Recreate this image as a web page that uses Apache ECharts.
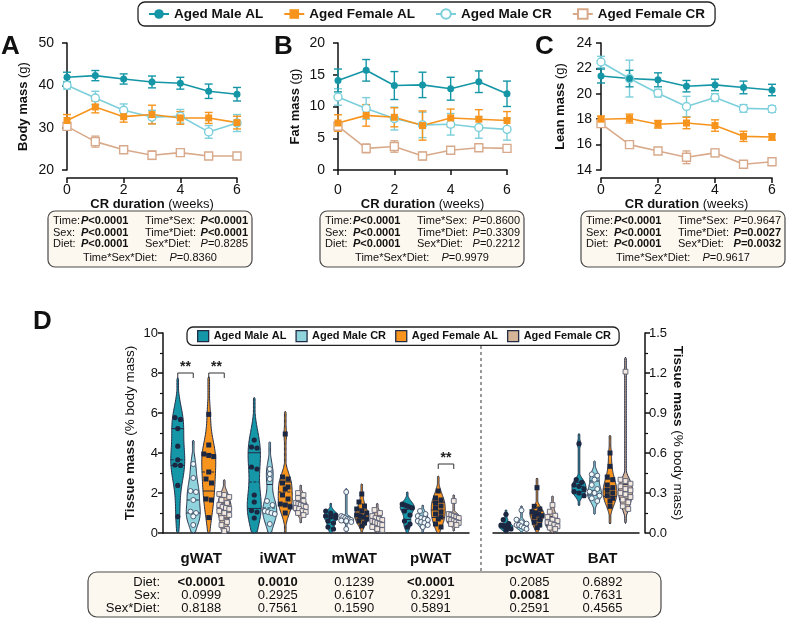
<!DOCTYPE html>
<html><head><meta charset="utf-8">
<script src="https://cdn.jsdelivr.net/npm/echarts@6/dist/echarts.min.js"></script>
<style>html,body{margin:0;padding:0;background:#fff}#c{width:787px;height:619px}</style>
</head><body><div id="c"></div>
<script>
// ================= DATA =================
const weeks = [0, 1, 2, 3, 4, 5, 6];
const groupNames = ['Aged Male AL', 'Aged Female AL', 'Aged Male CR', 'Aged Female CR'];

// Panel A: body mass (g)
const bodyMaleAL = [41.9, 42.3, 41.5, 40.8, 40.5, 38.6, 37.9];
const bodyMaleALErr = [1.2, 1.2, 1.2, 1.4, 1.4, 1.7, 1.6];
const bodyFemaleAL = [31.7, 34.9, 32.6, 33.1, 32.3, 32.3, 31.2];
const bodyFemaleALErr = [1.4, 1.4, 1.3, 2.2, 1.5, 1.3, 1.5];
const bodyMaleCR = [40.0, 37.0, 34.1, 32.5, 32.7, 29.0, 31.1];
const bodyMaleCRErr = [0.9, 1.6, 1.5, 1.6, 1.6, 1.5, 2.0];
const bodyFemaleCR = [30.3, 26.7, 24.8, 23.5, 24.1, 23.3, 23.3];
const bodyFemaleCRErr = [0.8, 1.3, 0.8, 1.0, 0.6, 0.3, 0.3];

// Panel B: fat mass (g)
const fatMaleAL = [14.1, 15.7, 13.3, 13.4, 12.8, 13.9, 12.0];
const fatMaleALErr = [1.8, 1.7, 2.2, 2.0, 1.8, 1.7, 2.0];
const fatFemaleAL = [7.4, 8.6, 8.3, 7.0, 8.2, 8.0, 7.8];
const fatFemaleALErr = [1.3, 1.7, 1.5, 2.3, 1.4, 1.5, 1.4];
const fatMaleCR = [11.5, 9.7, 8.1, 7.1, 7.2, 6.7, 6.4];
const fatMaleCRErr = [1.3, 1.7, 1.8, 2.0, 1.7, 1.7, 1.7];
const fatFemaleCR = [6.9, 3.4, 3.7, 2.2, 3.1, 3.5, 3.4];
const fatFemaleCRErr = [0.7, 0.7, 0.9, 0.6, 0.4, 0.3, 0.3];

// Panel C: lean mass (g)
const leanMaleAL = [21.4, 21.2, 21.1, 20.6, 20.7, 20.5, 20.3];
const leanMaleALErr = [0.55, 0.65, 0.55, 0.45, 0.45, 0.5, 0.45];
const leanFemaleAL = [18.0, 18.05, 17.6, 17.7, 17.5, 16.65, 16.6];
const leanFemaleALErr = [0.25, 0.35, 0.3, 0.45, 0.45, 0.4, 0.25];
const leanMaleCR = [22.5, 21.2, 20.05, 19.0, 19.7, 18.85, 18.8];
const leanMaleCRErr = [0.45, 1.45, 0.3, 0.8, 0.3, 0.3, 0.25];
const leanFemaleCR = [17.65, 16.0, 15.5, 15.0, 15.35, 14.45, 14.65];
const leanFemaleCRErr = [0.2, 0.2, 0.2, 0.5, 0.3, 0.15, 0.25];

// Stats boxes (A, B, C)
const statsA = [['Time:', 'P<0.0001', 'Time*Sex:', 'P<0.0001'], ['Sex:', 'P<0.0001', 'Time*Diet:', 'P<0.0001'], ['Diet:', 'P<0.0001', 'Sex*Diet:', 'P=0.8285']];
const statsA3 = 'P=0.8360';
const statsB = [['Time:', 'P<0.0001', 'Time*Sex:', 'P=0.8600'], ['Sex:', 'P<0.0001', 'Time*Diet:', 'P=0.3309'], ['Diet:', 'P<0.0001', 'Sex*Diet:', 'P=0.2212']];
const statsB3 = 'P=0.9979';
const statsC = [['Time:', 'P<0.0001', 'Time*Sex:', 'P=0.9647'], ['Sex:', 'P<0.0001', 'Time*Diet:', 'P=0.0027'], ['Diet:', 'P<0.0001', 'Sex*Diet:', 'P=0.0032']];
const statsC3 = 'P=0.9617';

// Panel D: tissue mass (% body mass)
const tissuesLeft = ['gWAT', 'iWAT', 'mWAT', 'pWAT'];
const tissuesRight = ['pcWAT', 'BAT'];
const dGroupNames = ['Aged Male AL', 'Aged Male CR', 'Aged Female AL', 'Aged Female CR'];

const gWAT_MaleAL = [5.77, 5.68, 5.22, 4.34, 3.66, 3.40, 3.38, 2.38, 0.82];
const gWAT_MaleCR = [3.45, 2.75, 2.10, 2.05, 1.65, 1.07, 1.00, 0.83, 0.40];
const gWAT_FemaleAL = [5.93, 4.40, 3.95, 3.88, 3.82, 3.05, 2.70, 2.50, 1.70, 1.65, 0.77];
const gWAT_FemaleCR = [1.95, 1.90, 1.80, 1.65, 1.50, 1.40, 1.30, 1.25, 1.20, 1.10, 1.00, 0.90, 0.75, 0.55, 0.40, 0.20, 0.10];
const iWAT_MaleAL = [4.65, 4.30, 4.25, 3.30, 3.20, 1.90, 1.55, 1.12, 1.05, 0.75];
const iWAT_MaleCR = [3.20, 2.95, 2.70, 1.60, 1.40, 1.10, 1.05, 1.00, 0.95, 0.45];
const iWAT_FemaleAL = [4.95, 2.80, 2.70, 2.50, 2.30, 2.20, 1.90, 1.70, 1.45, 1.40, 1.30, 1.00];
const iWAT_FemaleCR = [2.00, 1.90, 1.75, 1.60, 1.50, 1.45, 1.40, 1.35, 1.30, 1.25, 1.20, 1.10, 1.05, 1.00, 0.90];
const mWAT_MaleAL = [1.10, 1.00, 0.90, 0.85, 0.80, 0.75, 0.60, 0.50, 0.30, 0.20];
const mWAT_MaleCR = [2.05, 0.85, 0.80, 0.75, 0.70, 0.68, 0.65, 0.62, 0.60, 0.55, 0.20];
const mWAT_FemaleAL = [1.95, 1.55, 1.35, 1.20, 1.10, 1.00, 0.90, 0.85, 0.80, 0.70, 0.60, 0.50, 0.35];
const mWAT_FemaleCR = [1.15, 1.00, 0.85, 0.75, 0.70, 0.65, 0.60, 0.55, 0.50, 0.45, 0.40, 0.30, 0.20, 0.15];
const pWAT_MaleAL = [1.45, 1.40, 1.35, 1.30, 1.25, 1.10, 0.90, 0.60, 0.45, 0.30];
const pWAT_MaleCR = [1.10, 0.95, 0.85, 0.75, 0.70, 0.65, 0.60, 0.55, 0.50, 0.40, 0.30];
const pWAT_FemaleAL = [2.10, 1.75, 1.65, 1.50, 1.35, 1.25, 1.05, 0.95, 0.80, 0.70, 0.45, 0.30];
const pWAT_FemaleCR = [1.60, 0.95, 0.90, 0.85, 0.80, 0.75, 0.70, 0.65, 0.60, 0.55, 0.50, 0.45, 0.40];
const pcWAT_MaleAL = [0.14, 0.10, 0.07, 0.06, 0.05, 0.05, 0.04, 0.03, 0.02];
const pcWAT_MaleCR = [0.17, 0.10, 0.08, 0.07, 0.06, 0.06, 0.05, 0.04, 0.03];
const pcWAT_FemaleAL = [0.34, 0.20, 0.18, 0.16, 0.15, 0.14, 0.13, 0.12, 0.10, 0.08, 0.06, 0.04];
const pcWAT_FemaleCR = [0.21, 0.16, 0.13, 0.12, 0.10, 0.09, 0.08, 0.07, 0.06, 0.05, 0.04, 0.03];
const BAT_MaleAL = [0.67, 0.40, 0.38, 0.36, 0.35, 0.33, 0.31, 0.30, 0.28];
const BAT_MaleCR = [0.44, 0.43, 0.40, 0.36, 0.33, 0.31, 0.30, 0.28, 0.26, 0.24];
const BAT_FemaleAL = [0.60, 0.50, 0.42, 0.40, 0.36, 0.34, 0.32, 0.30, 0.28, 0.26, 0.24, 0.20];
const BAT_FemaleCR = [1.21, 0.40, 0.39, 0.37, 0.35, 0.33, 0.32, 0.30, 0.29, 0.27, 0.25, 0.23, 0.20, 0.18];

// significance brackets: [tissueIndex (left group), y value, groupA, groupB]
const sigBrackets = [[0, 8.0, 0, 1], [0, 8.0, 2, 3], [3, 3.45, 2, 3]];
const sigLabel = '**';

// Table under D
const tableRowLabels = ['Diet:', 'Sex:', 'Sex*Diet:'];
const pDiet = ['<0.0001', '0.0010', '0.1239', '<0.0001', '0.2085', '0.6892'];
const pSex = ['0.0999', '0.2925', '0.6107', '0.3291', '0.0081', '0.7631'];
const pSexDiet = ['0.8188', '0.7561', '0.1590', '0.5891', '0.2591', '0.4565'];

// ================= STYLE =================
const FONT = "'Liberation Sans', Arial, Helvetica, sans-serif";
const INK = '#111';
const COL = { mAL: '#1496a6', fAL: '#f7941d', mCR: '#7ccfdb', fCR: '#d8aa8b' };
const VFILL = ['#1597a8', '#8fd3dd', '#f7941d', '#d6b497'];
const VLINE = '#232c46';
const vOffsets = [-23.5, -8, 7.5, 23];

const leftSets = [
  [gWAT_MaleAL, gWAT_MaleCR, gWAT_FemaleAL, gWAT_FemaleCR],
  [iWAT_MaleAL, iWAT_MaleCR, iWAT_FemaleAL, iWAT_FemaleCR],
  [mWAT_MaleAL, mWAT_MaleCR, mWAT_FemaleAL, mWAT_FemaleCR],
  [pWAT_MaleAL, pWAT_MaleCR, pWAT_FemaleAL, pWAT_FemaleCR]
];
const rightSets = [
  [pcWAT_MaleAL, pcWAT_MaleCR, pcWAT_FemaleAL, pcWAT_FemaleCR],
  [BAT_MaleAL, BAT_MaleCR, BAT_FemaleAL, BAT_FemaleCR]
];

const chart = echarts.init(document.getElementById('c'), null, { renderer: 'canvas' });

// ---------- helpers ----------
const axisLineStyle = { color: INK, width: 1.5 };
function lineSeries(name, gi, ys, color, symbol, hollow) {
  return {
    type: 'line', name, xAxisIndex: gi, yAxisIndex: gi,
    data: weeks.map((w, i) => [w, ys[i]]),
    symbol, symbolSize: hollow ? 8 : 7,
    itemStyle: { color: hollow ? '#fff' : color, borderColor: color, borderWidth: hollow ? 1.4 : 0 },
    lineStyle: { color, width: 1.6 },
    z: 4, clip: false, animation: false
  };
}
function errSeries(gi, ys, errs, color) {
  return {
    type: 'custom', xAxisIndex: gi, yAxisIndex: gi, z: 3, clip: false, silent: true,
    data: weeks.map((w, i) => [w, ys[i] - errs[i], ys[i] + errs[i]]),
    encode: { x: 0, y: [1, 2] },
    renderItem(params, api) {
      const x = api.value(0);
      const a = api.coord([x, api.value(1)]);
      const b = api.coord([x, api.value(2)]);
      const cw = 4, st = { stroke: color, lineWidth: 1.4 };
      return {
        type: 'group', children: [
          { type: 'line', shape: { x1: a[0], y1: a[1], x2: b[0], y2: b[1] }, style: st },
          { type: 'line', shape: { x1: a[0] - cw, y1: a[1], x2: a[0] + cw, y2: a[1] }, style: st },
          { type: 'line', shape: { x1: b[0] - cw, y1: b[1], x2: b[0] + cw, y2: b[1] }, style: st }
        ]
      };
    }
  };
}
function panelSeries(gi, mAL, mALe, fAL, fALe, mCR, mCRe, fCR, fCRe) {
  return [
    errSeries(gi, fCR, fCRe, COL.fCR), errSeries(gi, mCR, mCRe, COL.mCR),
    errSeries(gi, fAL, fALe, COL.fAL), errSeries(gi, mAL, mALe, COL.mAL),
    lineSeries('Aged Female CR', gi, fCR, COL.fCR, 'rect', true),
    lineSeries('Aged Male CR', gi, mCR, COL.mCR, 'circle', true),
    lineSeries('Aged Female AL', gi, fAL, COL.fAL, 'rect', false),
    lineSeries('Aged Male AL', gi, mAL, COL.mAL, 'circle', false)
  ];
}
function topX(gi) {
  return {
    gridIndex: gi, type: 'value', min: 0, max: 6, interval: 2, offset: 8,
    axisLine: { show: true, lineStyle: axisLineStyle },
    axisTick: { show: true, length: 5, lineStyle: { width: 1.5, color: INK } },
    axisLabel: { fontSize: 14, color: INK, margin: 5, fontFamily: FONT },
    splitLine: { show: false },
    name: '{b|CR duration} (weeks)', nameLocation: 'middle', nameGap: 18,
    nameTextStyle: { fontSize: 13, color: INK, fontFamily: FONT, rich: { b: { fontSize: 13, fontWeight: 'bold', color: INK, fontFamily: FONT } } }
  };
}
function topY(gi, min, max, interval, offset, title, gap) {
  return {
    gridIndex: gi, type: 'value', min, max, interval, offset,
    axisLine: { show: true, lineStyle: axisLineStyle },
    axisTick: { show: true, length: 5, lineStyle: { width: 1.5, color: INK } },
    axisLabel: { fontSize: 14, color: INK, margin: 5, fontFamily: FONT },
    splitLine: { show: false },
    name: '{b|' + title + '} (g)', nameLocation: 'middle', nameGap: gap, nameRotate: 90,
    nameTextStyle: { fontSize: 13, color: INK, fontFamily: FONT, rich: { b: { fontSize: 13, fontWeight: 'bold', color: INK, fontFamily: FONT } } }
  };
}
function quantile(s, q) {
  const pos = (s.length - 1) * q, lo = Math.floor(pos), hi = Math.ceil(pos);
  return s[lo] + (s[hi] - s[lo]) * (pos - lo);
}
function violinRender(sets, g) {
  return function (params, api) {
    const ti = api.value(0);
    const pts = sets[ti][g];
    const s = pts.slice().sort((a, b) => a - b);
    const n = s.length;
    const mean = s.reduce((a, b) => a + b, 0) / n;
    const sd = Math.sqrt(s.reduce((a, b) => a + (b - mean) * (b - mean), 0) / (n - 1));
    const q1 = quantile(s, 0.25), q2 = quantile(s, 0.5), q3 = quantile(s, 0.75);
    let sig = Math.min(sd, (q3 - q1) / 1.34);
    if (!(sig > 0)) sig = sd;
    const h = 0.9 * sig * Math.pow(n, -0.2);
    const lo = Math.max(0, s[0] - 2.5 * h), hi = s[n - 1] + 2.5 * h;
    const dens = y => s.reduce((a, p) => a + Math.exp(-0.5 * ((y - p) / h) * ((y - p) / h)), 0);
    const N = 100, ys = [], ds = [];
    for (let i = 0; i <= N; i++) { const y = lo + (hi - lo) * i / N; ys.push(y); ds.push(dens(y)); }
    const dmax = Math.max(...ds);
    const HW = 7;
    const wAt = d => Math.max(0.8, d / dmax * HW);
    const cx = api.coord([ti, 0])[0] + vOffsets[g];
    const right = [], left = [];
    for (let i = 0; i <= N; i++) {
      const py = api.coord([ti, ys[i]])[1];
      const w = (i === 0 || i === N) ? 0 : wAt(ds[i]);
      right.push([cx + w, py]); left.unshift([cx - w, py]);
    }
    const children = [{
      type: 'polygon', shape: { points: right.concat(left) },
      style: { fill: VFILL[g], stroke: VLINE, lineWidth: 1 }
    }];
    [q1, q2, q3].forEach((q, k) => {
      const py = api.coord([ti, q])[1], w = wAt(dens(q));
      children.push({ type: 'line', shape: { x1: cx - w, y1: py, x2: cx + w, y2: py },
        style: { stroke: VLINE, lineWidth: 1, lineDash: k === 1 ? [3, 1.5] : null } });
    });
    // dots: group rows of near-equal pixel height, spread them horizontally
    const desc = s.slice().sort((a, b) => b - a).map(v => ({ v, py: api.coord([ti, v])[1] }));
    const rows = [];
    desc.forEach(d => {
      const r = rows[rows.length - 1];
      if (r && Math.abs(d.py - r[0].py) < 4.2) r.push(d); else rows.push([d]);
    });
    rows.forEach(r => {
      const k = r.length;
      const sp = Math.min(5.5, k > 1 ? 10 / (k - 1) : 0);
      r.forEach((d, j) => {
        const x = cx + (j - (k - 1) / 2) * sp, y = d.py;
        if (g === 0) children.push({ type: 'circle', shape: { cx: x, cy: y, r: 2.6 }, style: { fill: '#1c2742' } });
        else if (g === 1) children.push({ type: 'circle', shape: { cx: x, cy: y, r: 2.5 }, style: { fill: '#eef9fb', stroke: '#44506b', lineWidth: 0.9 } });
        else if (g === 2) children.push({ type: 'rect', shape: { x: x - 2.5, y: y - 2.5, width: 5, height: 5 }, style: { fill: '#1c2742' } });
        else children.push({ type: 'rect', shape: { x: x - 2.4, y: y - 2.4, width: 4.8, height: 4.8 }, style: { fill: '#f3e9df', stroke: '#5a6076', lineWidth: 0.9 } });
      });
    });
    return { type: 'group', children };
  };
}
function violinSeries(gridSide, g) {
  const sets = gridSide === 0 ? leftSets : rightSets;
  const ax = gridSide === 0 ? 3 : 4;
  return {
    type: 'custom', name: dGroupNames[g] + ' ', xAxisIndex: ax, yAxisIndex: ax, z: 5, clip: false,
    data: sets.map((_, i) => [i, 0]), encode: { x: 0, y: 1 },
    itemStyle: { color: VFILL[g] },
    renderItem: violinRender(sets, g)
  };
}
const bracketSeries = {
  type: 'custom', xAxisIndex: 3, yAxisIndex: 3, z: 6, clip: false, silent: true,
  data: sigBrackets, encode: { x: 0, y: 1 },
  renderItem(params, api) {
    const ti = api.value(0);
    const y = api.coord([ti, api.value(1)])[1];
    const base = api.coord([ti, 0])[0];
    const x1 = base + vOffsets[api.value(2)], x2 = base + vOffsets[api.value(3)];
    return {
      type: 'group', children: [
        { type: 'polyline', shape: { points: [[x1, y + 5], [x1, y], [x2, y], [x2, y + 5]] }, style: { stroke: '#333', lineWidth: 1, fill: null } },
        { type: 'text', x: (x1 + x2) / 2, y: y + 1, style: { text: sigLabel, fill: '#222', font: 'bold 14px ' + FONT, align: 'center', verticalAlign: 'bottom' } }
      ]
    };
  }
};

const dYName = '{b|Tissue mass} (% body mass)';
const dNameStyle = { fontSize: 13.5, color: INK, fontFamily: FONT, rich: { b: { fontSize: 13.5, fontWeight: 'bold', color: INK, fontFamily: FONT } } };

const option = {
  animation: false,
  backgroundColor: '#fff',
  textStyle: { fontFamily: FONT },
  grid: [
    { left: 67, top: 43, width: 170, height: 127 },
    { left: 338, top: 43, width: 169, height: 127 },
    { left: 601, top: 43, width: 171, height: 127 },
    { left: 163, top: 333, width: 306, height: 200 },
    { left: 493, top: 333, width: 146, height: 200 }
  ],
  xAxis: [
    topX(0), topX(1), topX(2),
    { gridIndex: 3, type: 'category', data: tissuesLeft, offset: 11,
      axisLine: { lineStyle: axisLineStyle }, axisTick: { alignWithLabel: true, length: 4, lineStyle: { width: 1.5, color: INK } },
      axisLabel: { fontSize: 15, fontWeight: 'bold', color: INK, margin: 7, fontFamily: FONT } },
    { gridIndex: 4, type: 'category', data: tissuesRight, offset: 11,
      axisLine: { lineStyle: axisLineStyle }, axisTick: { alignWithLabel: true, length: 4, lineStyle: { width: 1.5, color: INK } },
      axisLabel: { fontSize: 15, fontWeight: 'bold', color: INK, margin: 7, fontFamily: FONT } }
  ],
  yAxis: [
    topY(0, 20, 50, 10, 8, 'Body mass', 29),
    topY(1, 0, 20, 5, 8, 'Fat mass', 28),
    topY(2, 14, 24, 2, 4, 'Lean mass', 30),
    { gridIndex: 3, type: 'value', min: 0, max: 10, interval: 2,
      axisLine: { show: true, lineStyle: axisLineStyle },
      axisTick: { show: true, length: 5, lineStyle: { width: 1.5, color: INK } },
      minorTick: { show: true, splitNumber: 2, length: 3, lineStyle: { width: 1.2, color: INK } },
      axisLabel: { fontSize: 13, color: INK, margin: 5, fontFamily: FONT },
      splitLine: { show: false }, minorSplitLine: { show: false },
      name: dYName, nameLocation: 'middle', nameGap: 26, nameRotate: 90, nameTextStyle: dNameStyle },
    { gridIndex: 4, type: 'value', position: 'right', offset: 6, min: 0, max: 1.5, interval: 0.3,
      axisLine: { show: true, lineStyle: axisLineStyle },
      axisTick: { show: true, length: 5, lineStyle: { width: 1.5, color: INK } },
      minorTick: { show: true, splitNumber: 2, length: 3, lineStyle: { width: 1.2, color: INK } },
      axisLabel: { fontSize: 13, color: INK, margin: 4, fontFamily: FONT, formatter: v => v.toFixed(1) },
      splitLine: { show: false }, minorSplitLine: { show: false },
      name: dYName, nameLocation: 'middle', nameGap: 26, nameRotate: -90, nameTextStyle: dNameStyle }
  ],
  legend: [
    { left: 138, top: 2, orient: 'horizontal', padding: [5, 10], itemGap: 20, itemWidth: 20, itemHeight: 12,
      borderColor: '#222', borderWidth: 1.3, borderRadius: 7,
      textStyle: { fontSize: 13.5, fontWeight: 'bold', color: INK, fontFamily: FONT },
      data: groupNames },
    { left: 187, top: 327, orient: 'horizontal', padding: [3, 5, 3, 10], itemGap: 6, itemWidth: 11, itemHeight: 11,
      borderColor: '#222', borderWidth: 1.3, borderRadius: 6, backgroundColor: '#fff',
      textStyle: { fontSize: 11, fontWeight: 'bold', color: INK, fontFamily: FONT },
      data: dGroupNames.map((n, g) => ({ name: n + ' ', icon: 'rect', itemStyle: { color: VFILL[g], borderColor: VLINE, borderWidth: 1.3 } })) }
  ],
  series: [
    ...panelSeries(0, bodyMaleAL, bodyMaleALErr, bodyFemaleAL, bodyFemaleALErr, bodyMaleCR, bodyMaleCRErr, bodyFemaleCR, bodyFemaleCRErr),
    ...panelSeries(1, fatMaleAL, fatMaleALErr, fatFemaleAL, fatFemaleALErr, fatMaleCR, fatMaleCRErr, fatFemaleCR, fatFemaleCRErr),
    ...panelSeries(2, leanMaleAL, leanMaleALErr, leanFemaleAL, leanFemaleALErr, leanMaleCR, leanMaleCRErr, leanFemaleCR, leanFemaleCRErr),
    violinSeries(0, 0), violinSeries(0, 1), violinSeries(0, 2), violinSeries(0, 3),
    violinSeries(1, 0), violinSeries(1, 1), violinSeries(1, 2), violinSeries(1, 3),
    bracketSeries
  ]
};
chart.setOption(option);

// ---------- annotations (letters, stats boxes, table) ----------
const isSig = p => { const m = p.replace('P', ''); return m[0] === '<' || parseFloat(m.replace('=', '')) < 0.05; };
const fmtP = p => isSig(p) ? '{bi|P}{b|' + p.slice(1) + '}' : '{i|P}' + p.slice(1);
const SF = 11;
const rich = {
  b: { fontWeight: 'bold', fontSize: SF, fontFamily: FONT, fill: INK },
  bi: { fontWeight: 'bold', fontStyle: 'italic', fontSize: SF, fontFamily: FONT, fill: INK },
  i: { fontStyle: 'italic', fontSize: SF, fontFamily: FONT, fill: INK }
};
const rowYs = [221, 232.5, 244];
function statsBox(L, R, rows, last) {
  const els = [{ type: 'rect', shape: { x: L, y: 211, width: R - L, height: 56, r: 7 }, style: { fill: '#fdf8ef', stroke: '#4a4a4a', lineWidth: 1.2 }, z: 1 }];
  rows.forEach((r, k) => {
    const y = rowYs[k];
    els.push({ type: 'text', x: L + 5, y, z: 2, style: { text: r[0], font: SF + 'px ' + FONT, fill: INK, verticalAlign: 'middle' } });
    els.push({ type: 'text', x: L + 33, y, z: 2, style: { text: fmtP(r[1]), font: SF + 'px ' + FONT, fill: INK, verticalAlign: 'middle', rich } });
    els.push({ type: 'text', x: L + 97, y, z: 2, style: { text: r[2], font: SF + 'px ' + FONT, fill: INK, verticalAlign: 'middle' } });
    els.push({ type: 'text', x: R - 4, y, z: 2, style: { text: fmtP(r[3]), font: SF + 'px ' + FONT, fill: INK, align: 'right', verticalAlign: 'middle', rich } });
  });
  els.push({ type: 'text', x: (L + R) / 2, y: 257.5, z: 2, style: { text: 'Time*Sex*Diet:    ' + fmtP(last), font: SF + 'px ' + FONT, fill: INK, align: 'center', verticalAlign: 'middle', rich } });
  return els;
}
const letter = (t, x, y) => ({ type: 'text', x, y, z: 3, style: { text: t, font: 'bold 26px ' + FONT, fill: INK, verticalAlign: 'middle' } });

const colX = tissuesLeft.map((t, i) => chart.convertToPixel({ xAxisIndex: 3 }, i))
  .concat(tissuesRight.map((t, i) => chart.convertToPixel({ xAxisIndex: 4 }, i)));
const TF = 13;
const tableEls = [{ type: 'rect', shape: { x: 88, y: 572, width: 573, height: 45, r: 9 }, style: { fill: '#fdf8ef', stroke: '#4a4a4a', lineWidth: 1.2 }, z: 1 }];
const tableRows = [pDiet, pSex, pSexDiet];
const tableYs = [582, 595, 608];
tableRows.forEach((row, k) => {
  tableEls.push({ type: 'text', x: 160, y: tableYs[k], z: 2, style: { text: tableRowLabels[k], font: TF + 'px ' + FONT, fill: INK, align: 'right', verticalAlign: 'middle' } });
  row.forEach((v, j) => {
    const bold = v[0] === '<' || parseFloat(v) < 0.05;
    tableEls.push({ type: 'text', x: colX[j], y: tableYs[k], z: 2, style: { text: v, font: (bold ? 'bold ' : '') + TF + 'px ' + FONT, fill: INK, align: 'center', verticalAlign: 'middle' } });
  });
});

chart.setOption({
  graphic: [
    letter('A', 1, 47), letter('B', 274, 47), letter('C', 535, 47), letter('D', 33, 322),
    ...statsBox(48, 252, statsA, statsA3),
    ...statsBox(320, 524, statsB, statsB3),
    ...statsBox(581, 785, statsC, statsC3),
    { type: 'line', shape: { x1: 481, y1: 346, x2: 481, y2: 572 }, style: { stroke: '#333', lineWidth: 1, lineDash: [3, 3] }, z: 1 },
    ...tableEls
  ]
});
</script>
</body></html>
